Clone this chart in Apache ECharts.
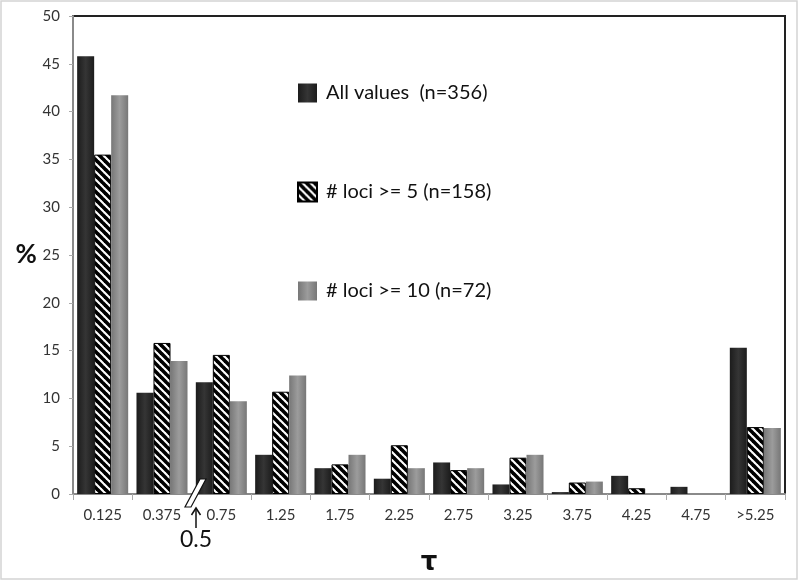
<!DOCTYPE html>
<html>
<head>
<meta charset="utf-8">
<script src="https://cdn.jsdelivr.net/npm/echarts@6/dist/echarts.min.js"></script>
<style>html,body{margin:0;padding:0;background:#fff;}#c{width:800px;height:581px;}</style>
</head>
<body>
<div id="c"></div>
<script>
var categories = ['0.125','0.375','0.75','1.25','1.75','2.25','2.75','3.25','3.75','4.25','4.75','>5.25'];
var allValues = [45.8, 10.6, 11.7, 4.1, 2.7, 1.6, 3.3, 1.0, 0.2, 1.9, 0.75, 15.3];
var loci5 = [35.5, 15.8, 14.55, 10.7, 3.1, 5.1, 2.5, 3.8, 1.2, 0.6, 0, 7.0];
var loci10 = [41.7, 13.9, 9.7, 12.4, 4.1, 2.7, 2.7, 4.1, 1.3, 0, 0, 6.9];
var seriesNames = ['All values  (n=356)', '# loci >= 5 (n=158)', '# loci >= 10 (n=72)'];
var yTicks = [0,5,10,15,20,25,30,35,40,45,50];

var FONT = 'Lato, "Open Sans", sans-serif';

function hatch() {
  var s = 8;
  var cv = document.createElement('canvas');
  cv.width = s; cv.height = s;
  var ctx = cv.getContext('2d');
  ctx.fillStyle = '#ffffff';
  ctx.fillRect(0, 0, s, s);
  ctx.strokeStyle = '#000000';
  ctx.lineWidth = 3.6;
  [-s, 0, s].forEach(function (k) {
    ctx.beginPath();
    ctx.moveTo(k - 1, -1);
    ctx.lineTo(k + s + 1, s + 1);
    ctx.stroke();
  });
  return cv;
}

function hgrad(edge, mid) {
  return new echarts.graphic.LinearGradient(0, 0, 1, 0, [
    {offset: 0, color: edge}, {offset: 0.5, color: mid}, {offset: 1, color: edge}
  ]);
}

function items(arr) {
  return arr.map(function (v) {
    return v === 0 ? {value: v, itemStyle: {borderWidth: 0, opacity: 0}} : v;
  });
}

var chart = echarts.init(document.getElementById('c'), null, {renderer: 'canvas'});
var option = {
  animation: false,
  backgroundColor: '#ffffff',
  grid: {left: 73, right: 15, top: 16, bottom: 85, show: true, borderColor: '#222', borderWidth: 2, backgroundColor: 'transparent'},
  legend: {
    orient: 'vertical', left: 297, top: 80, padding: 0,
    icon: 'rect',
    itemWidth: 19, itemHeight: 19, itemGap: 73,
    textStyle: {fontFamily: FONT, fontSize: 20, color: '#111', lineHeight: 20, padding: [0, 0, 6, 4]},
    data: seriesNames
  },
  xAxis: {
    type: 'category', data: categories,
    axisLine: {lineStyle: {color: '#8a8a8a', width: 2}},
    axisTick: {show: true, alignWithLabel: false, length: 6, lineStyle: {color: '#aaa'}},
    axisLabel: {fontFamily: FONT, fontSize: 15, color: '#333', margin: 14},
    name: 'τ', nameLocation: 'middle', nameGap: 56,
    nameTextStyle: {fontFamily: 'DejaVu Sans, sans-serif', fontSize: 26, fontWeight: 'bold', color: '#111'}
  },
  yAxis: {
    type: 'value', min: 0, max: 50, interval: 5,
    axisLine: {show: true, lineStyle: {color: '#8a8a8a', width: 2}},
    axisTick: {show: true, length: 4, lineStyle: {color: '#aaa'}},
    splitLine: {show: false},
    axisLabel: {fontFamily: FONT, fontSize: 15, color: '#333', margin: 13,
      formatter: function (v) { return yTicks.indexOf(v) >= 0 ? String(v) : ''; }},
    name: '%', nameLocation: 'middle', nameRotate: 0, nameGap: 36,
    nameTextStyle: {fontFamily: FONT, fontSize: 26, fontWeight: 'bold', color: '#111', align: 'right'}
  },
  series: [
    {name: seriesNames[0], type: 'bar', data: items(allValues), barGap: 0, barCategoryGap: '14%',
      itemStyle: {color: hgrad('#1c1c1c', '#353535'), borderColor: '#111', borderWidth: 0}},
    {name: seriesNames[1], type: 'bar', data: items(loci5), barGap: 0, barCategoryGap: '14%',
      itemStyle: {color: {image: hatch(), repeat: 'repeat'}, borderColor: '#000', borderWidth: 1}},
    {name: seriesNames[2], type: 'bar', data: items(loci10), barGap: 0, barCategoryGap: '14%',
      itemStyle: {color: hgrad('#777777', '#9c9c9c'), borderColor: '#777', borderWidth: 0}}
  ],
  graphic: [
    {type: 'rect', shape: {x: 1, y: 1, width: 796, height: 578}, style: {fill: 'none', stroke: '#d4d4d4', lineWidth: 1.5}, z: 100},
    {type: 'polygon', shape: {points: [[185, 507], [191, 507], [206, 479], [200, 479]]}, style: {fill: '#fff', stroke: '#111', lineWidth: 1.2}, z: 100},
    {type: 'line', shape: {x1: 196, y1: 528, x2: 196, y2: 509}, style: {stroke: '#111', lineWidth: 1.5}, z: 100},
    {type: 'polyline', shape: {points: [[191.5, 515], [196, 508], [200.5, 515]]}, style: {stroke: '#111', lineWidth: 1.5, fill: 'none'}, z: 100},
    {type: 'text', x: 196, y: 540, style: {text: '0.5', fontFamily: FONT, fontSize: 23, fill: '#111', align: 'center', verticalAlign: 'middle'}, z: 100}
  ]
};
chart.setOption(option);
</script>
</body>
</html>
